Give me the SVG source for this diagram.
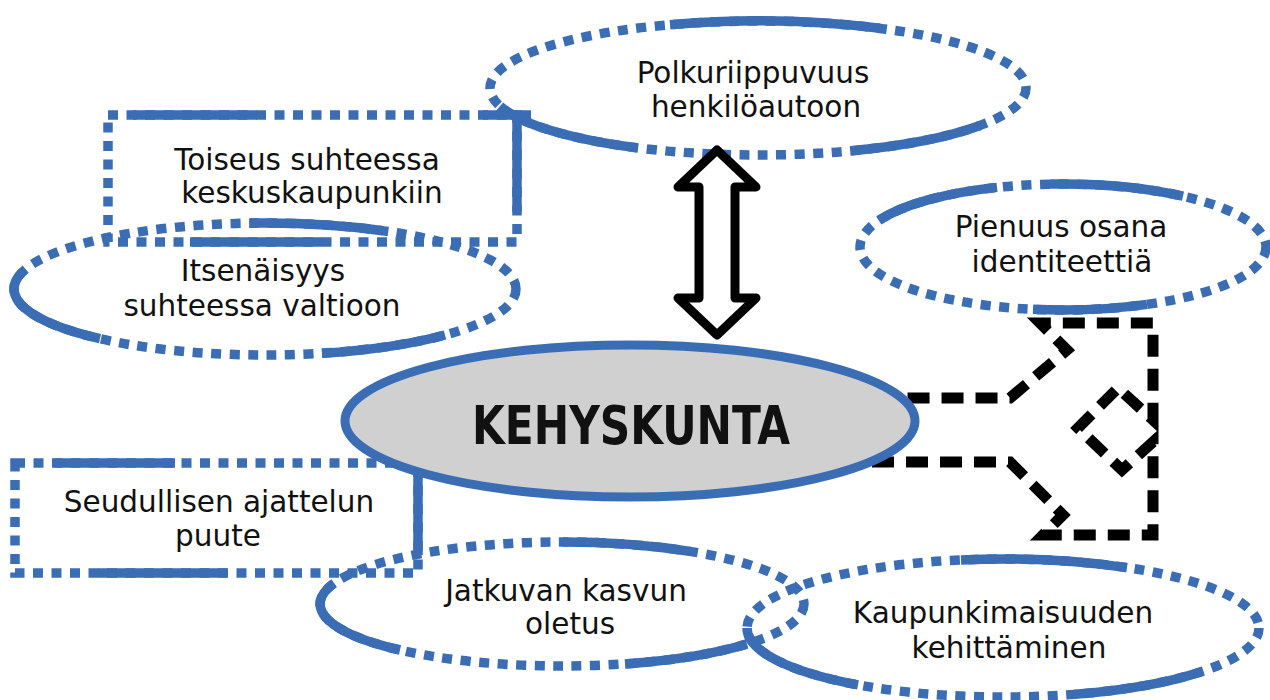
<svg xmlns="http://www.w3.org/2000/svg" width="1270" height="700" viewBox="0 0 1270 700">
<style>
.dot{fill:none;stroke:#3b6db4;stroke-width:9.5;stroke-dasharray:10 8.5}
.sol{fill:none;stroke:#3b6db4;stroke-width:9.5;stroke-linecap:butt}
.t{font-family:"DejaVu Sans","Liberation Sans",sans-serif;font-size:29.5px;fill:#111;text-anchor:middle}
.fork{fill:none;stroke:#000;stroke-width:11;stroke-dasharray:22 12;stroke-linejoin:miter}
</style>
<rect width="1270" height="700" fill="#fff"/>

<g id="toiseus">
<rect class="dot" x="108" y="115" width="409" height="127"/>
<path class="sol" d="M133 115H257M483 115H531M517 115V212M190 242H322"/>
<text class="t" x="307" y="170">Toiseus suhteessa</text>
<text class="t" x="312" y="203">keskuskaupunkiin</text>
</g>

<g id="itsenaisyys">
<ellipse class="dot" cx="265" cy="289" rx="251" ry="66"/>
<path class="sol" d="M250 223.1A251 66 0 0 1 383 230.7M22 272.4A251 66 0 0 0 100 338.7M322 353.3A251 66 0 0 0 445 335"/>
<text class="t" x="263" y="281">Itsenäisyys</text>
<text class="t" x="262" y="316">suhteessa valtioon</text>
</g>

<g id="polkuriippuvuus">
<ellipse class="dot" cx="758" cy="88" rx="268" ry="67"/>
<path class="sol" d="M670 24.7A268 67 0 0 1 880 28.3M500 106.1A268 67 0 0 0 637 147.8M851 150.8A268 67 0 0 0 980 125.5"/>
<text class="t" x="753" y="83">Polkuriippuvuus</text>
<text class="t" x="756" y="117">henkilöautoon</text>
</g>

<g id="pienuus">
<ellipse class="dot" cx="1063" cy="247" rx="203" ry="63"/>
<path class="sol" d="M880 219.7A203 63 0 0 1 997 187.4M1050 184.1A203 63 0 0 1 1183 196.2M1033 309.3A203 63 0 0 0 1147 304.4"/>
<text class="t" x="1061" y="237">Pienuus osana</text>
<text class="t" x="1062" y="272">identiteettiä</text>
</g>

<g id="seudullisen">
<rect class="dot" x="15" y="463" width="403" height="110"/>
<path class="sol" d="M55 463H175M98 573H227M418 470V555"/>
<text class="t" x="219" y="512">Seudullisen ajattelun</text>
<text class="t" x="218" y="546">puute</text>
</g>

<g id="jatkuvan">
<ellipse class="dot" cx="562" cy="604" rx="242" ry="62"/>
<path class="sol" d="M563 542A242 62 0 0 1 690 551.4M333 584A242 62 0 0 0 400 650M625 663.9A242 62 0 0 0 747 644"/>
<text class="t" x="566" y="601">Jatkuvan kasvun</text>
<text class="t" x="570" y="634">oletus</text>
</g>

<g id="kaupunkimaisuuden">
<ellipse class="dot" cx="1003" cy="628" rx="256" ry="69"/>
<path class="sol" d="M961 559.9A256 69 0 0 1 1127 567.6M747 628A256 69 0 0 0 858 684.9M1075 694.2A256 69 0 0 0 1202 671.4"/>
<text class="t" x="1003" y="623">Kaupunkimaisuuden</text>
<text class="t" x="1009" y="658">kehittäminen</text>
</g>

<g id="connectors">
<path class="fork" d="M872 462H1010L1063 515L1043 535H1153V442L1122 470L1078 428L1118 388L1153 420V323H1040L1067 350L1010 398H895"/>
<polygon points="717,150 756,187 735,187 735,298 756,298 717,335 678,298 699,298 699,187 678,187" fill="#fff" stroke="#000" stroke-width="9" stroke-linejoin="round"/>
</g>

<g id="kehyskunta">
<ellipse cx="630" cy="421" rx="285" ry="76" fill="#d0d0d0" stroke="#3b6db4" stroke-width="9"/>
<text x="631" y="444" font-family="DejaVu Sans Condensed,DejaVu Sans,sans-serif" font-weight="bold" font-size="54" text-anchor="middle" textLength="318" lengthAdjust="spacingAndGlyphs" fill="#111">KEHYSKUNTA</text>
</g>
</svg>
